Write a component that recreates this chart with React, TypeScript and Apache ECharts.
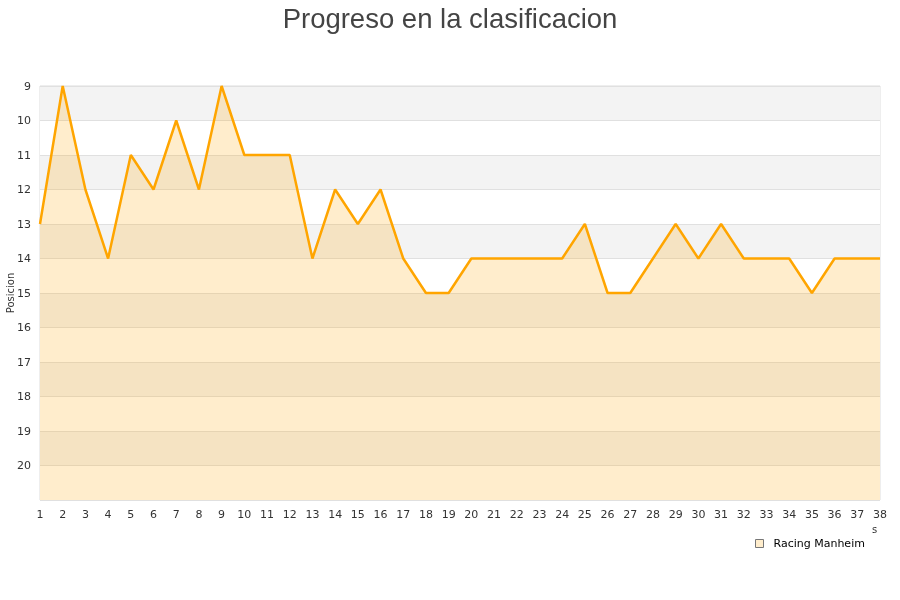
import React, { useEffect, useRef } from "react";
import * as echarts from "echarts";

const jornadas: string[] = Array.from({ length: 38 }, (_, i) => String(i + 1));
const posiciones: number[] = [
  13, 9, 12, 14, 11, 12, 10, 12, 9, 11, 11, 11, 14, 12, 13, 12, 14, 15, 15, 14,
  14, 14, 14, 14, 13, 15, 15, 14, 13, 14, 13, 14, 14, 14, 15, 14, 14, 14,
];
const equipo = "Racing Manheim";
const titulo = "Progreso en la clasificacion";

export default function App() {
  const ref = useRef<HTMLDivElement>(null);
  useEffect(() => {
    if (!ref.current) return;
    const chart = echarts.init(ref.current, null, { renderer: "svg" });
    chart.setOption({
      animation: false,
      title: {
        text: titulo,
        left: "center",
        top: -1,
        textStyle: {
          fontFamily: "Liberation Sans, Arial, sans-serif",
          fontSize: 27.5,
          fontWeight: "normal",
          color: "#444",
        },
      },
      grid: {
        left: 40,
        right: 20,
        top: 86,
        bottom: 100,
        containLabel: false,
        outerBoundsMode: "none",
        show: true,
        borderColor: "#ddd",
        borderWidth: 1,
        backgroundColor: "transparent",
      },
      legend: {
        data: [{ name: equipo, icon: "rect" }],
        left: 750,
        top: 533,
        itemWidth: 8,
        itemHeight: 8,
        itemGap: 6,
        textStyle: { fontFamily: "DejaVu Sans, sans-serif", fontSize: 11, color: "#000", padding: [0, 0, 0, 5] },
        itemStyle: { color: "#ffedcc", borderColor: "#777", borderWidth: 1 },
      },
      xAxis: {
        type: "category",
        data: jornadas,
        boundaryGap: false,
        axisLine: { show: false },
        axisTick: { show: false },
        axisLabel: {
          interval: 0,
          margin: 9,
          fontFamily: "DejaVu Sans, sans-serif",
          fontSize: 11,
          color: "#333",
        },
        splitLine: { show: false },
      },
      yAxis: {
        type: "value",
        inverse: true,
        min: 9,
        max: 21,
        interval: 1,
        name: "Posicion",
        nameLocation: "middle",
        nameGap: 25,
        nameMoveOverlap: false,
        nameRotate: 90,
        nameTextStyle: { fontFamily: "DejaVu Sans, sans-serif", fontSize: 10, color: "#333" },
        axisLine: { show: false },
        axisTick: { show: false },
        axisLabel: {
          margin: 9,
          fontFamily: "DejaVu Sans, sans-serif",
          fontSize: 11,
          color: "#333",
          formatter: (v: number) => (v >= 21 ? "" : String(v)),
        },
        splitLine: { show: true, lineStyle: { color: "#e0e0e0", width: 1 } },
        splitArea: { show: true, areaStyle: { color: ["#f3f3f3", "#ffffff"] } },
      },
      graphic: [
        {
          type: "text",
          left: 872,
          top: 524,
          style: { text: "s", fontFamily: "DejaVu Sans, sans-serif", fontSize: 10, fill: "#333" },
        },
      ],
      series: [
        {
          name: equipo,
          type: "line",
          data: posiciones,
          showSymbol: false,
          symbol: "none",
          lineStyle: { color: "#ffa500", width: 2.5 },
          itemStyle: { color: "#ffedcc" },
          areaStyle: { color: "rgba(255,165,0,0.2)", opacity: 1, origin: "end" },
        },
      ],
    });
    return () => chart.dispose();
  }, []);
  return <div ref={ref} style={{ position: "fixed", left: 0, top: 0, width: 900, height: 600 }} />;
}
